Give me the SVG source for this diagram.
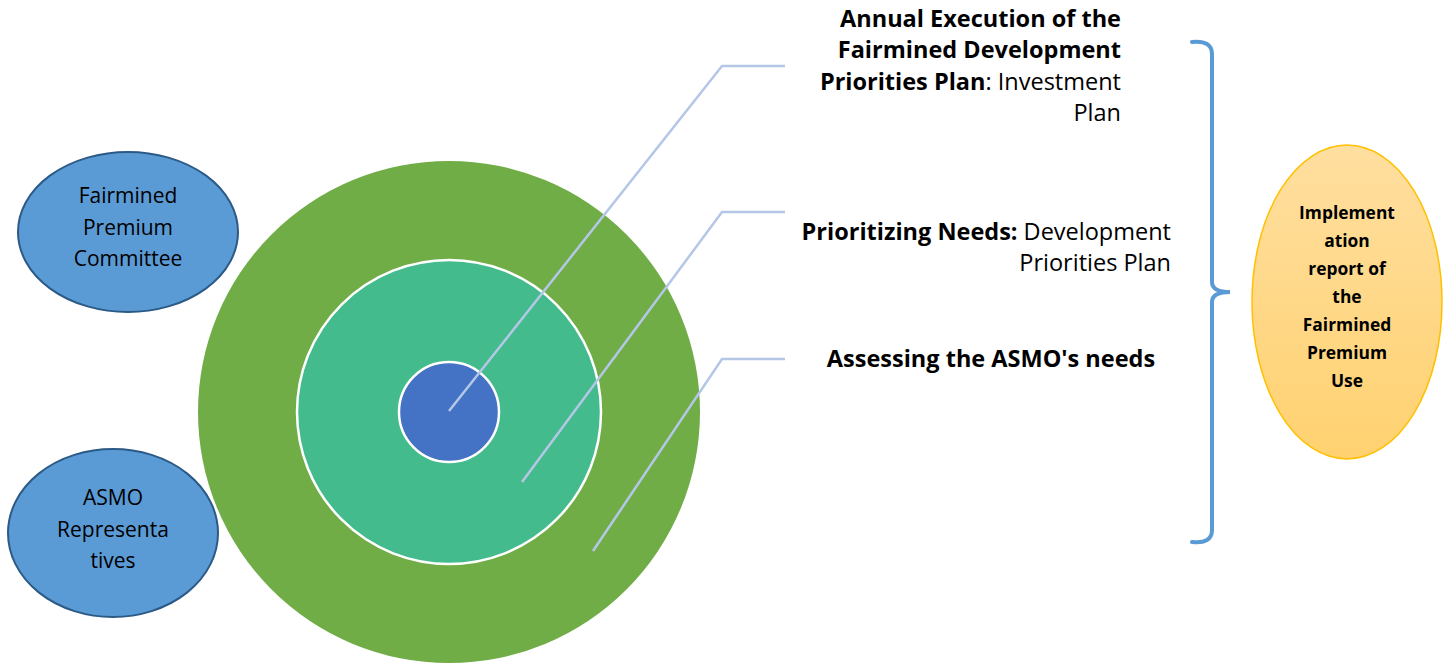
<svg xmlns="http://www.w3.org/2000/svg" width="1444" height="664" viewBox="0 0 1444 664">
<style>
text{font-family:"Open Sans","Noto Sans","Liberation Sans",sans-serif;fill:#000}
.lbl{font-size:23.5px}
.b{font-weight:bold}
.n{font-weight:normal}
.side{font-size:21px;text-anchor:middle}
.yel{font-size:17.4px;font-weight:bold;text-anchor:middle}
.conn{fill:none;stroke:#B4C7E7;stroke-width:2.5}
.blueell{fill:#5B9BD5;stroke:#2C5A86;stroke-width:2}
</style>
<defs>
<linearGradient id="yg" x1="0" y1="0" x2="0" y2="1">
<stop offset="0" stop-color="#FFDFA0"/>
<stop offset="1" stop-color="#FFD170"/>
</linearGradient>
</defs>
<g id="committee">
<ellipse class="blueell" cx="128" cy="232" rx="110" ry="80"/>
<text class="side"><tspan x="128" y="203">Fairmined</tspan><tspan x="128" y="235">Premium</tspan><tspan x="128" y="266">Committee</tspan></text>
</g>
<g id="representatives">
<ellipse class="blueell" cx="113" cy="533" rx="105" ry="84"/>
<text class="side"><tspan x="113" y="505">ASMO</tspan><tspan x="113" y="537">Representa</tspan><tspan x="113" y="568">tives</tspan></text>
</g>
<g id="outer">
<circle cx="449" cy="412" r="251" fill="#70AD47"/>
</g>
<g id="middle">
<circle cx="449" cy="412" r="152" fill="#43BB8C" stroke="#FFFFFF" stroke-width="2.5"/>
</g>
<g id="inner">
<circle cx="449" cy="412" r="50" fill="#4472C4" stroke="#FFFFFF" stroke-width="2.5"/>
</g>
<g id="connectors">
<polyline class="conn" points="449,411 722,66 785,66"/>
<polyline class="conn" points="522,482 722,212 785,212"/>
<polyline class="conn" points="593,551 722,359 785,359"/>
<path d="M1192,42 Q1212,40 1212,54 L1212,282 Q1212,292 1230,292 Q1212,292 1212,302 L1212,530 Q1212,544 1192,542" fill="none" stroke="#5B9BD5" stroke-width="4" stroke-linecap="round"/>
</g>
<g id="label-annual">
<text class="lbl b" text-anchor="end"><tspan x="1121" y="27">Annual Execution of the</tspan><tspan x="1121" y="58">Fairmined Development</tspan><tspan x="1121" y="90">Priorities Plan<tspan class="n">: Investment</tspan></tspan><tspan class="n" x="1121" y="121">Plan</tspan></text>
</g>
<g id="label-prioritizing">
<text class="lbl" text-anchor="end"><tspan x="1171" y="240"><tspan class="b">Prioritizing Needs:</tspan> Development</tspan><tspan x="1171" y="271">Priorities Plan</tspan></text>
</g>
<g id="label-assessing">
<text class="lbl b" x="991" y="367" text-anchor="middle">Assessing the ASMO's needs</text>
</g>
<g id="report">
<ellipse cx="1347" cy="302" rx="95" ry="157" fill="url(#yg)" stroke="#FFC000" stroke-width="1.5"/>
<text class="yel"><tspan x="1347" y="219">Implement</tspan><tspan x="1347" y="247">ation</tspan><tspan x="1347" y="275">report of</tspan><tspan x="1347" y="303">the</tspan><tspan x="1347" y="331">Fairmined</tspan><tspan x="1347" y="359">Premium</tspan><tspan x="1347" y="387">Use</tspan></text>
</g>
</svg>
